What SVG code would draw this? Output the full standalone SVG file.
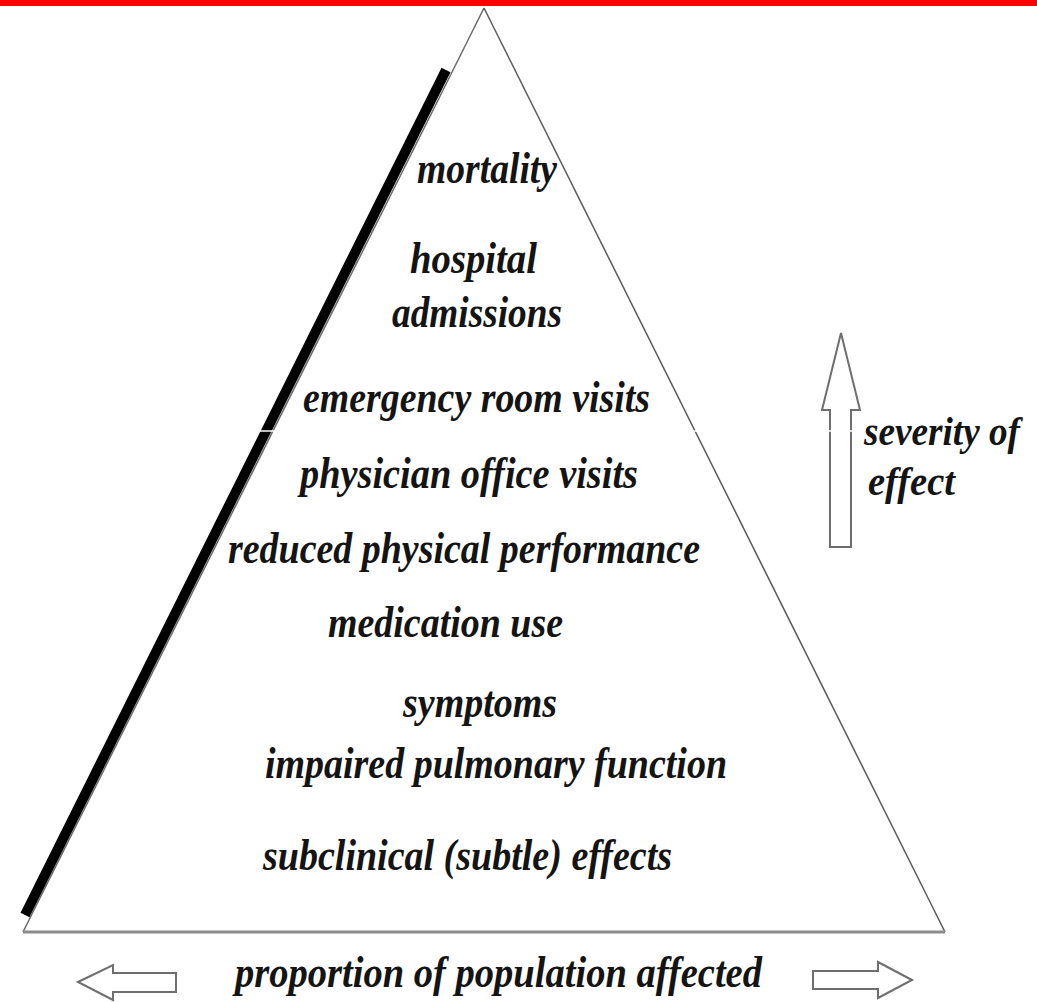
<svg xmlns="http://www.w3.org/2000/svg" width="1037" height="1002" viewBox="0 0 1037 1002">
<style>
  .lbl { font-family: "Liberation Serif", "Times New Roman", serif; font-weight: bold; font-style: italic; font-size: 44px; fill: #141414; }
  .side { font-size: 40px; }
  .arrow { fill: #ffffff; stroke: #6e6e6e; stroke-width: 2; stroke-linejoin: miter; }
</style>
<rect x="0" y="0" width="1037" height="1002" fill="#ffffff"/>
<rect id="topbar" x="0" y="0" width="1037" height="6" fill="#ff0000"/>
<g id="pyramid">
  <line x1="484" y1="8" x2="23" y2="932" stroke="#6a6a6a" stroke-width="1.5"/>
  <line x1="484" y1="8" x2="945" y2="932" stroke="#5a5a5a" stroke-width="1.5"/>
  <line x1="23" y1="932" x2="945" y2="932" stroke="#8c8c8c" stroke-width="3"/>
  <line id="thickedge" x1="446" y1="70" x2="25" y2="915" stroke="#000000" stroke-width="10"/>
</g>
<g id="connectors">
  <polygon id="severity-arrow" class="arrow" points="841,333 860,410 851,410 851,547 830,547 830,410 822,410"/>
  <polygon id="left-arrow" class="arrow" points="78,982 113,965 113,973 176,973 176,992 113,992 113,1000"/>
  <polygon id="right-arrow" class="arrow" points="912,980 878,962 878,971 813,971 813,989 878,989 878,998"/>
</g>
<line x1="255" y1="431" x2="856" y2="431" stroke="#ffffff" stroke-width="1.5"/>
<g id="n-mortality"><text class="lbl" x="417" y="183" textLength="140" lengthAdjust="spacingAndGlyphs">mortality</text></g>
<g id="n-hospital">
  <text class="lbl" x="410" y="273" textLength="127" lengthAdjust="spacingAndGlyphs">hospital</text>
  <text class="lbl" x="392" y="327" textLength="170" lengthAdjust="spacingAndGlyphs">admissions</text>
</g>
<g id="n-emergency"><text class="lbl" x="303" y="412" textLength="347" lengthAdjust="spacingAndGlyphs">emergency room visits</text></g>
<g id="n-physician"><text class="lbl" x="300" y="488" textLength="338" lengthAdjust="spacingAndGlyphs">physician office visits</text></g>
<g id="n-reduced"><text class="lbl" x="228" y="563" textLength="472" lengthAdjust="spacingAndGlyphs">reduced physical performance</text></g>
<g id="n-medication"><text class="lbl" x="328" y="637" textLength="235" lengthAdjust="spacingAndGlyphs">medication use</text></g>
<g id="n-symptoms"><text class="lbl" x="403" y="717" textLength="154" lengthAdjust="spacingAndGlyphs">symptoms</text></g>
<g id="n-impaired"><text class="lbl" x="265" y="778" textLength="462" lengthAdjust="spacingAndGlyphs">impaired pulmonary function</text></g>
<g id="n-subclinical"><text class="lbl" x="263" y="870" textLength="409" lengthAdjust="spacingAndGlyphs">subclinical (subtle) effects</text></g>
<g id="n-severity">
  <text class="lbl side" x="864" y="445" textLength="156" lengthAdjust="spacingAndGlyphs">severity of</text>
  <text class="lbl side" x="868" y="495" textLength="87" lengthAdjust="spacingAndGlyphs">effect</text>
</g>
<g id="n-proportion"><text class="lbl" x="235" y="987" textLength="527" lengthAdjust="spacingAndGlyphs">proportion of population affected</text></g>
</svg>
